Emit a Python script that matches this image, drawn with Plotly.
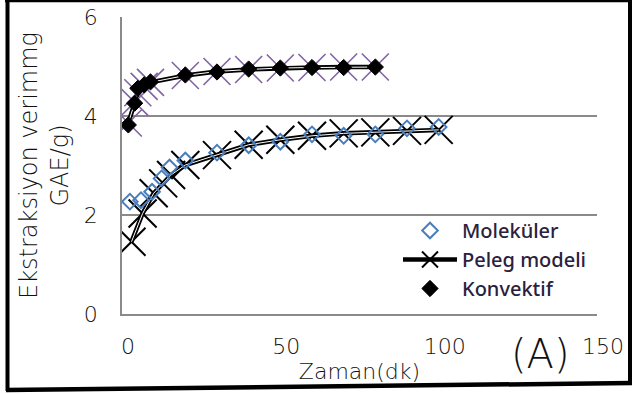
import plotly.graph_objects as go

# ---- data ----
mol_x = [2.5, 6, 9.5, 12.5, 15, 20, 30, 40, 50, 60, 70, 80, 90, 100]
mol_y = [2.27, 2.30, 2.47, 2.74, 2.96, 3.10, 3.26, 3.41, 3.48, 3.63, 3.60, 3.63, 3.75, 3.78]

peleg_x = [3, 6.5, 10, 13, 15.5, 20, 30, 40, 50, 60, 70, 80, 90, 100]
peleg_y = [1.46, 2.03, 2.44, 2.64, 2.81, 3.01, 3.21, 3.42, 3.52, 3.60, 3.65, 3.67, 3.70, 3.72]

conv_x = [2, 4, 5, 7, 9, 20, 30, 40, 50, 60, 70, 80]
conv_y = [3.82, 4.26, 4.56, 4.63, 4.69, 4.83, 4.89, 4.95, 4.97, 4.98, 4.98, 4.99]

peleg_conv_x = [2, 4, 5, 7, 9, 20, 30, 40, 50, 60, 70, 80]
peleg_conv_y = [3.86, 4.28, 4.47, 4.60, 4.68, 4.82, 4.90, 4.94, 4.97, 4.98, 4.99, 4.99]

x_ticks = [0, 50, 100, 150]
y_ticks = [0, 2, 4, 6]

BLUE = "#4a7ebb"
PURPLE = "#8064a2"
FAM = "'DejaVu Sans', Lato, sans-serif"
AX_FONT = dict(family=FAM, size=22, color="#111111", weight=200)

fig = go.Figure()

# lower Peleg model: thick black line + black crosses
fig.add_trace(go.Scatter(
    x=peleg_x, y=peleg_y, mode="lines+markers", name="Peleg modeli",
    line=dict(color="black", width=4.5),
    marker=dict(symbol="x-thin", size=28, line=dict(color="black", width=2)),
    legendrank=2, legendgroup="b"))
fig.add_trace(go.Scatter(
    x=peleg_x, y=peleg_y, mode="lines", showlegend=False,
    line=dict(color="white", width=1), hoverinfo="skip"))

# Moleküler
fig.add_trace(go.Scatter(
    x=mol_x, y=mol_y, mode="markers", name="Moleküler",
    marker=dict(symbol="diamond-open", size=12, color=BLUE, line=dict(color=BLUE, width=2)),
    legendrank=1, legendgroup="a"))

# upper Peleg model (convective): purple crosses + thick black line
fig.add_trace(go.Scatter(
    x=peleg_conv_x, y=peleg_conv_y, mode="lines+markers", showlegend=False,
    line=dict(color="black", width=4.5),
    marker=dict(symbol="x-thin", size=27, line=dict(color=PURPLE, width=1.6))))
fig.add_trace(go.Scatter(
    x=peleg_conv_x, y=peleg_conv_y, mode="lines", showlegend=False,
    line=dict(color="white", width=1), hoverinfo="skip"))

# Konvektif
fig.add_trace(go.Scatter(
    x=conv_x, y=conv_y, mode="markers", name="Konvektif",
    marker=dict(symbol="diamond", size=12.5, color="black", line=dict(color="black", width=1)),
    legendrank=3, legendgroup="c"))

# paper -> pixel helpers for decoration
L, R, T, B = 122, 597, 17, 314
def px(xp):
    return (xp - L) / (R - L)
def py(yp):
    return (B - yp) / (B - T)

shapes = [
    # white patch hiding gridline behind the legend box
    dict(type="rect", xref="x", yref="y", x0=105.8, x1=150, y0=1.9, y1=2.1,
         fillcolor="white", line=dict(width=0), layer="below"),
    # outer frame
    dict(type="line", xref="paper", yref="paper", x0=px(7.5), x1=px(7.5), y0=py(0), y1=py(391),
         line=dict(color="black", width=4)),
    dict(type="line", xref="paper", yref="paper", x0=px(5), x1=px(632), y0=py(1), y1=py(1),
         line=dict(color="black", width=2.5)),
    dict(type="line", xref="paper", yref="paper", x0=px(630), x1=px(630), y0=py(0), y1=py(385),
         line=dict(color="black", width=4)),
    dict(type="line", xref="paper", yref="paper", x0=px(6), x1=px(632), y0=py(390), y1=py(383),
         line=dict(color="black", width=4.5)),
]

fig.update_layout(
    template="none",
    width=637, height=394, autosize=False,
    margin=dict(l=L, r=637 - R, t=T, b=394 - B, pad=0),
    paper_bgcolor="white", plot_bgcolor="white",
    font=AX_FONT,
    showlegend=True,
    legend=dict(x=px(398), y=py(211), xanchor="left", yanchor="top",
                bgcolor="rgba(0,0,0,0)", borderwidth=0, itemwidth=54, tracegroupgap=0,
                font=dict(family="'Noto Sans', 'Open Sans', sans-serif", size=20,
                          color="#2a2140", weight=500)),
    xaxis=dict(range=[0, 150], tickvals=x_ticks, ticktext=[str(v) for v in x_ticks],
               automargin=False,
               showgrid=False, zeroline=False, showline=True, linecolor="#8a8a8a",
               linewidth=1.5, ticks="", ticklabelstandoff=12, ticklabelshift=6,
               tickfont=AX_FONT,
               title=dict(text="Zaman(dk)", standoff=0,
                          font=dict(family=FAM, size=22, color="#111111", weight=200))),
    yaxis=dict(range=[0, 6.001], tickvals=y_ticks, ticktext=[str(v) for v in y_ticks],
               automargin=False,
               showgrid=True, gridcolor="#8a8a8a", gridwidth=1.5,
               zeroline=False, showline=True, linecolor="#8a8a8a", linewidth=1.5,
               ticks="", ticklabelstandoff=18, tickfont=AX_FONT,
               title=dict(text="Ekstraksiyon verimmg<br>GAE/g)", standoff=8,
                          font=dict(family=FAM, size=24, color="#111111", weight=200))),
    shapes=shapes,
    annotations=[dict(text="(A)", xref="paper", yref="paper", x=px(540), y=py(354),
                      showarrow=False, xanchor="center", yanchor="middle",
                      font=dict(family=FAM, size=40, color="#111111", weight=200))],
)

fig.write_html("out.html", config={"displayModeBar": False},
               post_script="document.body.style.margin='0';document.body.style.padding='0';")
